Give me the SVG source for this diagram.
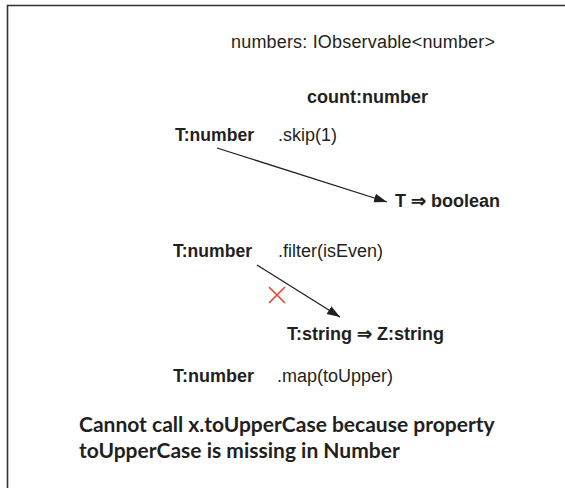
<svg xmlns="http://www.w3.org/2000/svg" width="565" height="488" viewBox="0 0 565 488">
<style>
.r{font-family:"Liberation Sans",Arial,sans-serif;font-size:18px;fill:#231f20}
.b{font-family:"Liberation Sans",Arial,sans-serif;font-size:18px;font-weight:bold;fill:#231f20}
.n{font-family:Lato,"Open Sans",sans-serif;font-size:21px;font-weight:bold;fill:#231f20}
.c{stroke:#231f20;stroke-width:1.3;fill:none}
</style>
<defs>
<marker id="ah" markerUnits="userSpaceOnUse" markerWidth="14" markerHeight="10" refX="13" refY="4.5" orient="auto">
<path d="M0,0 L13,4.5 L0,9 z" fill="#231f20"/>
</marker>
</defs>
<rect x="0" y="0" width="565" height="488" fill="#fff"/>
<path d="M7.5,600 V5.5 H700" fill="none" stroke="#333" stroke-width="1.6"/>
<g id="source"><text class="r" x="231" y="48" textLength="264" lengthAdjust="spacing">numbers: IObservable&lt;number&gt;</text></g>
<g id="count"><text class="b" x="307" y="103">count:number</text></g>
<g id="skip"><text class="b" x="175" y="141" textLength="79" lengthAdjust="spacingAndGlyphs">T:number</text><text class="r" x="278" y="141">.skip(1)</text></g>
<g id="predicate"><text class="b" x="395" y="207">T ⇒ boolean</text></g>
<g id="filter"><text class="b" x="173" y="257" textLength="79" lengthAdjust="spacingAndGlyphs">T:number</text><text class="r" x="278" y="257">.filter(isEven)</text></g>
<g id="mapper"><text class="b" x="287" y="340">T:string ⇒ Z:string</text></g>
<g id="map"><text class="b" x="173" y="382" textLength="81" lengthAdjust="spacingAndGlyphs">T:number</text><text class="r" x="277" y="382">.map(toUpper)</text></g>
<g id="error"><text class="n" x="79" y="432">Cannot call x.toUpperCase because property</text><text class="n" x="79" y="458">toUpperCase is missing in Number</text></g>
<g id="connectors">
<line class="c" x1="217" y1="148" x2="387" y2="202" marker-end="url(#ah)"/>
<line class="c" x1="257" y1="265" x2="340" y2="317" marker-end="url(#ah)"/>
<path d="M269,287 L285,303 M285,287 L269,303" stroke="#e8412c" stroke-width="1.6" fill="none"/>
</g>
</svg>
